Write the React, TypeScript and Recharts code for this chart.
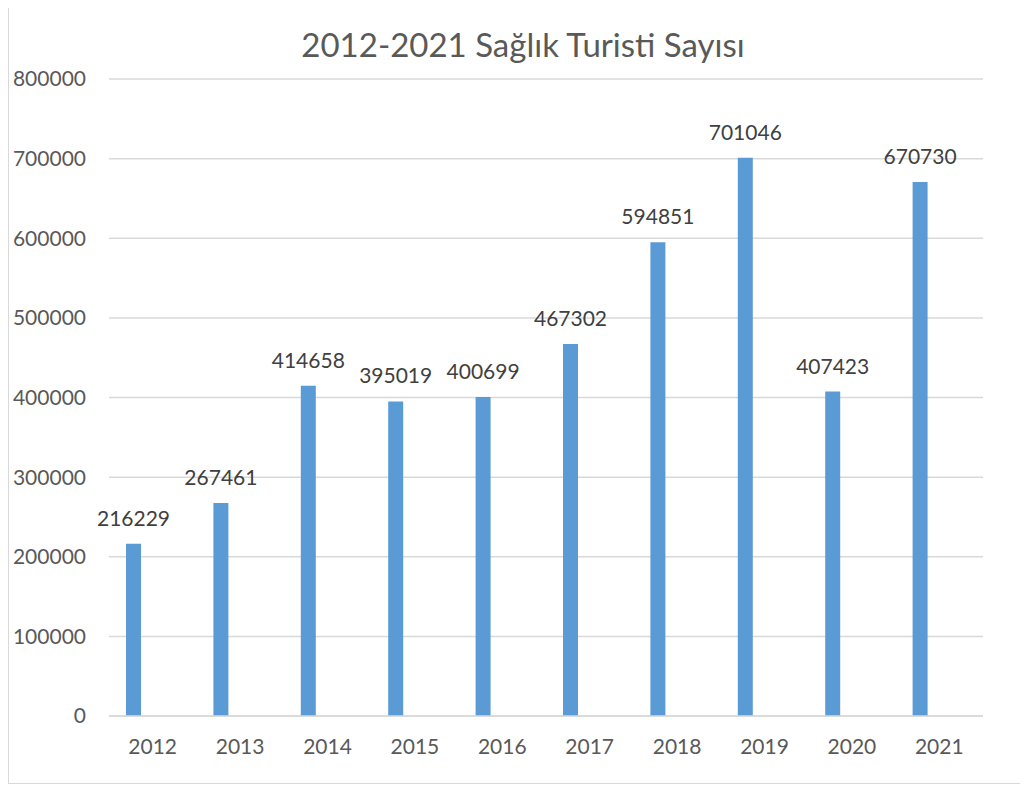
import React from 'react';
import { BarChart, Bar, XAxis, YAxis, CartesianGrid, LabelList } from 'recharts';

const years = ['2012', '2013', '2014', '2015', '2016', '2017', '2018', '2019', '2020', '2021'];
const tourists = [216229, 267461, 414658, 395019, 400699, 467302, 594851, 701046, 407423, 670730];
const yTicks = [0, 100000, 200000, 300000, 400000, 500000, 600000, 700000, 800000];

const FONT = 'Lato, "Open Sans", sans-serif';
const TEXT = '#595959';

export default function App() {
  const chartData = years.map((y, i) => ({ year: y, value: tourists[i] }));

  return (
    <div
      style={{
        position: 'relative',
        marginTop: -8,
        width: 1012,
        height: 782,
        border: '1px solid #d9d9d9',
        background: '#fff',
        fontFamily: FONT,
      }}
    >
      <div
        style={{
          position: 'absolute',
          top: 24,
          left: 0,
          width: 1028,
          textAlign: 'center',
          fontSize: 33,
          color: TEXT,
          lineHeight: '38px',
        }}
      >
        2012-2021 Sağlık Turisti Sayısı
      </div>
      <BarChart
        width={1012}
        height={782}
        data={chartData}
        margin={{ top: 78, right: 38, left: 0, bottom: 0 }}
        barGap={23}
      >
        <CartesianGrid vertical={false} stroke="#d9d9d9" strokeWidth={1.5} />
        <XAxis
          dataKey="year"
          height={67}
          tickLine={false}
          tickSize={0}
          tickMargin={23}
          axisLine={{ stroke: '#d9d9d9', strokeWidth: 1.5 }}
          tick={{ fontSize: 21, fill: TEXT, fontFamily: FONT }}
        />
        <YAxis
          width={100}
          domain={[0, 800000]}
          ticks={yTicks}
          axisLine={false}
          tickLine={false}
          tickSize={0}
          tickMargin={23}
          interval={0}
          tick={{ fontSize: 21, fill: TEXT, fontFamily: FONT }}
        />
        <Bar dataKey="value" fill="#5b9bd5" barSize={15} isAnimationActive={false}>
          <LabelList
            dataKey="value"
            position="top"
            offset={18}
            style={{ fontSize: 21, fill: '#404040', fontFamily: FONT }}
          />
        </Bar>
        <Bar dataKey="blank" fill="#ed7d31" barSize={15} isAnimationActive={false} />
      </BarChart>
    </div>
  );
}
